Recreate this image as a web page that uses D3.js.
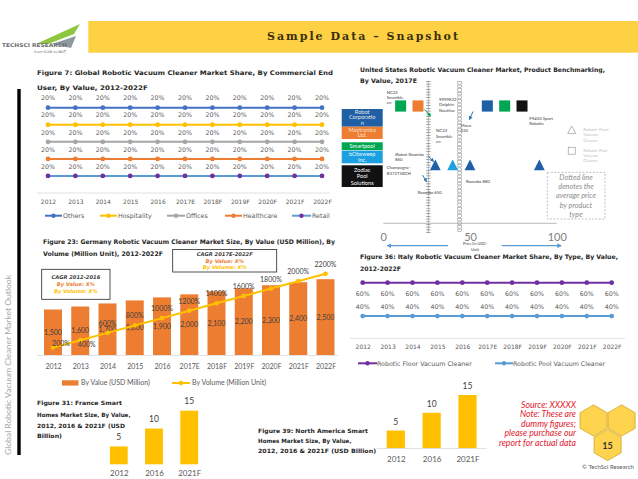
<!DOCTYPE html>
<html>
<head>
<meta charset="utf-8">
<script src="https://cdn.jsdelivr.net/npm/d3@7"></script>
<style>
  body { margin: 0; background: #fff; }
  svg { display: block; }
</style>
</head>
<body>
<script>
// ---------------- data ----------------
var years = ["2012","2013","2014","2015","2016","2017E","2018F","2019F","2020F","2021F","2022F"];

// Figure 7: global share by commercial end user (%)
var shareOthers      = [20,20,20,20,20,20,20,20,20,20,20];
var shareHospitality = [20,20,20,20,20,20,20,20,20,20,20];
var shareOffices     = [20,20,20,20,20,20,20,20,20,20,20];
var shareHealthcare  = [20,20,20,20,20,20,20,20,20,20,20];
var shareRetail      = [20,20,20,20,20,20,20,20,20,20,20];

// Figure 23: Germany market size
var deValue  = [1500,1600,1700,1800,1900,2000,2100,2200,2300,2400,2500];   // USD Million
var deVolume = [200,400,600,800,1000,1200,1400,1600,1800,2000,2200];        // Million Unit (shown as %)

// Figure 36: Italy share by type (%)
var itFloor = [60,60,60,60,60,60,60,60,60,60,60];
var itPool  = [40,40,40,40,40,40,40,40,40,40,40];

// Figure 31 / 39: smart homes market size (USD Billion)
var smartYears  = ["2012","2016","2021F"];
var franceValue = [5,10,15];
var naValue     = [5,10,15];

// US product benchmarking, 2017E (price in USD/unit)
var companies     = ["Robot Corporation","Maytronics Ltd.","Smartpool","bObsweep Inc.","Zodiac Pool Solutions"];
var companyColors = ["#1f5fa6","#ed7d31","#00a651","#1ba1e2","#111111"];
var poolPrices  = [10,20,60,70,80];
var poolMakers  = ["Smartpool","Maytronics Ltd.","Robot Corporation","Smartpool","Zodiac Pool Solutions"];
var floorPrices = [30,40,50,90];
var floorMakers = ["Robot Corporation","bObsweep Inc.","Robot Corporation","Robot Corporation"];
var avgFloorPrice = 26;
var avgPoolPrice  = 44;
var priceTicks = [0,50,100];

// ---------------- helpers ----------------
var VER = "'DejaVu Sans', Verdana, sans-serif";
var CAL = "Lato, 'Liberation Sans', sans-serif";

var svg = d3.select("body").append("svg")
    .attr("width", 638)
    .attr("height", 479);

function label(g, x, y, s, o) {
  o = o || {};
  var t = g.append("text")
      .attr("x", x).attr("y", y).attr("dy", "0.35em")
      .attr("font-family", o.ff || VER)
      .attr("font-size", o.fs || 6.5)
      .attr("fill", o.fill || "#595959")
      .attr("text-anchor", o.anchor || "start")
      .text(s);
  if (o.bold) t.attr("font-weight", "bold");
  if (o.italic) t.attr("font-style", "italic");
  if (o.len) t.attr("textLength", o.len).attr("lengthAdjust", o.adj || "spacingAndGlyphs");
  return t;
}

function bottomAxis(g, scale, y, pad, fs, ff) {
  var a = g.append("g")
      .attr("transform", "translate(0," + y + ")")
      .call(d3.axisBottom(scale).tickSize(0).tickPadding(pad));
  a.select(".domain").remove();
  a.selectAll("text")
      .attr("font-family", ff || VER)
      .attr("font-size", fs)
      .attr("fill", "#595959");
  return a;
}

var defs = svg.append("defs");
[["arrB","#2e75b6"],["arrG","#00a651"],["arrL","#5b9bd5"]].forEach(function(m) {
  defs.append("marker")
      .attr("id", m[0])
      .attr("viewBox", "0 0 10 10")
      .attr("refX", 8).attr("refY", 5)
      .attr("markerWidth", 4).attr("markerHeight", 4)
      .attr("orient", "auto-start-reverse")
    .append("path")
      .attr("d", "M0,0L10,5L0,10z")
      .attr("fill", m[1]);
});

// ---------------- header ----------------
svg.append("rect")
    .attr("x", 88.3).attr("y", 21)
    .attr("width", 550).attr("height", 31.7)
    .attr("fill", "#fed145");
label(svg, 267, 36.5, "Sample Data – Snapshot",
      {ff: "'DejaVu Serif', serif", fs: 11, bold: true, fill: "#3b2f0b", len: 191, adj: "spacing"});

// logo
var logo = svg.append("g");
logo.append("path").attr("d", "M36,44 L80,24 L74,34 L48,44 Z").attr("fill", "#8dc63f");
logo.append("path").attr("d", "M52,44 L76,36 L71,48 Z").attr("fill", "#8c9aa0");
label(logo, 2, 45.5, "TECHSCI RESEARCH", {fs: 5.2, bold: true, fill: "#6b6b6b", len: 65});
label(logo, 34, 51.5, "from SOW to NDT", {fs: 3.3, fill: "#666", len: 32});

// left side bar + vertical caption
svg.append("rect")
    .attr("x", 17.3).attr("y", 89)
    .attr("width", 3.4).attr("height", 366)
    .attr("fill", "#000");
label(svg, 0, 0, "Global Robotic Vacuum Cleaner Market Outlook",
      {ff: CAL, fs: 8, fill: "#a6a6a6", len: 180})
    .attr("transform", "translate(8.5,455) rotate(-90)");

// ---------------- Figure 7 ----------------
var f7 = svg.append("g");
label(f7, 37, 73, "Figure 7: Global Robotic Vacuum Cleaner Market Share, By Commercial End",
      {fs: 6.3, bold: true, fill: "#262626", len: 296});
label(f7, 37, 87.5, "User, By Value, 2012-2022F",
      {fs: 6.3, bold: true, fill: "#262626", len: 111});

var x7 = d3.scalePoint().domain(years).range([48, 322]);
var y7 = d3.scaleLinear().domain([0, 100]).range([193, 107.7]);

var f7series = {
  Others: shareOthers, Hospitality: shareHospitality, Offices: shareOffices,
  Healthcare: shareHealthcare, Retail: shareRetail
};
var f7line = {Others: "#4472c4", Hospitality: "#ffc000", Offices: "#a5a5a5", Healthcare: "#ed7d31", Retail: "#5b9bd5"};
var f7mark = {Others: "#4472c4", Hospitality: "#ffc000", Offices: "#a5a5a5", Healthcare: "#ed7d31", Retail: "#7030a0"};
var f7rows = years.map(function(yr, i) {
  var r = {year: yr};
  Object.keys(f7series).forEach(function(k) { r[k] = f7series[k][i]; });
  return r;
});
var stack7 = d3.stack().keys(["Retail","Healthcare","Offices","Hospitality","Others"])(f7rows);

f7.append("line")
    .attr("x1", 37).attr("x2", 330)
    .attr("y1", y7(0)).attr("y2", y7(0))
    .attr("stroke", "#d9d9d9").attr("stroke-width", 0.8);

stack7.forEach(function(s) {
  f7.append("path")
      .datum(s)
      .attr("fill", "none")
      .attr("stroke", f7line[s.key])
      .attr("stroke-width", 2)
      .attr("d", d3.line().x(function(d) { return x7(d.data.year); }).y(function(d) { return y7(d[1]); }));
  f7.selectAll(null).data(s).enter().append("circle")
      .attr("cx", function(d) { return x7(d.data.year); })
      .attr("cy", function(d) { return y7(d[1]); })
      .attr("r", 2.4)
      .attr("fill", f7mark[s.key]);
  s.forEach(function(d) {
    label(f7, x7(d.data.year), y7(d[1]) - 9.5, d.data[s.key] + "%", {anchor: "middle", fs: 6.3});
  });
});
bottomAxis(f7, x7, 193, 6.5, 6);

// legend
var f7leg = [["Others", 45, 63], ["Hospitality", 100, 118], ["Offices", 167, 186], ["Healthcare", 225, 243], ["Retail", 292, 312]];
f7leg.forEach(function(l) {
  f7.append("line")
      .attr("x1", l[1]).attr("x2", l[2] - 1)
      .attr("y1", 215.7).attr("y2", 215.7)
      .attr("stroke", f7line[l[0]]).attr("stroke-width", 2);
  f7.append("circle")
      .attr("cx", (l[1] + l[2] - 1) / 2).attr("cy", 215.7)
      .attr("r", 2.2).attr("fill", f7mark[l[0]]);
  label(f7, l[2], 215.7, l[0], {fs: 6.3});
});

// ---------------- Figure 23 ----------------
var f23 = svg.append("g");
label(f23, 43, 242, "Figure 23: Germany Robotic Vacuum Cleaner Market Size, By Value (USD Million), By",
      {fs: 6.3, bold: true, fill: "#262626", len: 292});
label(f23, 43, 253.5, "Volume (Million Unit), 2012-2022F",
      {fs: 6.3, bold: true, fill: "#262626", len: 120});

var x23 = d3.scalePoint().domain(years).range([53, 325.5]);
var yBar = d3.scaleLinear().domain([0, 2500]).range([355, 279.2]);
var yVol = d3.scaleLinear().domain([0, 2200]).range([355, 273.8]);
var barW = 18;

f23.selectAll("rect.bar").data(deValue).enter().append("rect")
    .attr("class", "bar")
    .attr("x", function(d, i) { return x23(years[i]) - barW / 2; })
    .attr("y", function(d) { return yBar(d); })
    .attr("width", barW)
    .attr("height", function(d) { return yBar(0) - yBar(d); })
    .attr("fill", "#ed7d31");

f23.append("line")
    .attr("x1", 37).attr("x2", 338)
    .attr("y1", 355.5).attr("y2", 355.5)
    .attr("stroke", "#d9d9d9").attr("stroke-width", 0.8);

deValue.forEach(function(d, i) {
  label(f23, x23(years[i]), (yBar(d) + yBar(0)) / 2, d3.format(",")(d),
        {ff: CAL, fs: 7, anchor: "middle", fill: "#404040"});
});

f23.append("path")
    .datum(deVolume)
    .attr("fill", "none")
    .attr("stroke", "#ffc000")
    .attr("stroke-width", 2)
    .attr("d", d3.line().x(function(d, i) { return x23(years[i]); }).y(function(d) { return yVol(d); }));
f23.selectAll("circle.vol").data(deVolume).enter().append("circle")
    .attr("class", "vol")
    .attr("cx", function(d, i) { return x23(years[i]); })
    .attr("cy", function(d) { return yVol(d); })
    .attr("r", 2.4)
    .attr("fill", "#ffc000");
deVolume.forEach(function(d, i) {
  var dx = 0, dy = -9.5;
  if (i === 0) { dx = 8; dy = -4; }
  if (i === 1) { dx = 6.5; dy = 4; }
  label(f23, x23(years[i]) + dx, yVol(d) + dy, d + "%",
        {ff: CAL, fs: 7, anchor: "middle", fill: "#404040"});
});
bottomAxis(f23, x23, 355, 9.2, 7, CAL);

// CAGR boxes
function cagrBox(g, x, y, w, h, head, cy) {
  g.append("rect")
      .attr("x", x).attr("y", y).attr("width", w).attr("height", h)
      .attr("fill", "#fff").attr("stroke", "#262626").attr("stroke-width", 0.8);
  var cx = x + w / 2;
  label(g, cx, cy[0], head, {fs: 5.2, bold: true, italic: true, anchor: "middle", fill: "#404040"});
  label(g, cx, cy[1], "By Value: X%", {fs: 5.2, bold: true, italic: true, anchor: "middle", fill: "#ed7d31"});
  label(g, cx, cy[2], "By Volume: X%", {fs: 5.2, bold: true, italic: true, anchor: "middle", fill: "#ffc000"});
}
cagrBox(f23, 172.7, 249.5, 104, 22.5, "CAGR 2017E-2022F", [254.3, 260.7, 267]);
cagrBox(f23, 41.7, 269.3, 68.3, 30, "CAGR 2012-2016", [277.3, 284.3, 290.7]);

// legend
f23.append("rect").attr("x", 62).attr("y", 380.3).attr("width", 16.5).attr("height", 5.3).attr("fill", "#ed7d31");
label(f23, 81, 383, "By Value (USD Million)", {ff: CAL, fs: 7, fill: "#595959"});
f23.append("line").attr("x1", 172).attr("x2", 190).attr("y1", 383).attr("y2", 383)
    .attr("stroke", "#ffc000").attr("stroke-width", 2);
f23.append("circle").attr("cx", 181).attr("cy", 383).attr("r", 2.3).attr("fill", "#ffc000");
label(f23, 192, 383, "By Volume (Million Unit)", {ff: CAL, fs: 7, fill: "#595959"});

// ---------------- Figure 31 (France) ----------------
var f31 = svg.append("g");
[["Figure 31: France Smart", 403.3, 85],
 ["Homes Market Size, By Value,", 414.5, 93.5],
 ["2012, 2016 & 2021F (USD", 425.5, 88],
 ["Billion)", 436, 25]].forEach(function(t) {
  label(f31, 37, t[1], t[0], {fs: 5.8, bold: true, fill: "#262626", len: t[2]});
});
var x31 = d3.scalePoint().domain(smartYears).range([118.8, 189.2]);
var y31 = d3.scaleLinear().domain([0, 15]).range([464.3, 410.7]);
f31.selectAll("rect").data(franceValue).enter().append("rect")
    .attr("x", function(d, i) { return x31(smartYears[i]) - 8.9; })
    .attr("y", function(d) { return y31(d); })
    .attr("width", 17.8)
    .attr("height", function(d) { return y31(0) - y31(d); })
    .attr("fill", "#ffc000");
franceValue.forEach(function(d, i) {
  label(f31, x31(smartYears[i]), y31(d) - 9.3, d, {ff: CAL, fs: 8.5, anchor: "middle", fill: "#404040"});
});
bottomAxis(f31, x31, 464.3, 5.8, 8, CAL);

// ---------------- Figure 39 (North America) ----------------
var f39 = svg.append("g");
[["Figure 39: North America Smart", 431, 110],
 ["Homes Market Size, By Value,", 441, 93.5],
 ["2012, 2016 & 2021F (USD Billion)", 451, 118]].forEach(function(t) {
  label(f39, 258, t[1], t[0], {fs: 5.8, bold: true, fill: "#262626", len: t[2]});
});
var x39 = d3.scalePoint().domain(smartYears).range([395.8, 467.5]);
var y39 = d3.scaleLinear().domain([0, 15]).range([448.3, 395]);
f39.selectAll("rect").data(naValue).enter().append("rect")
    .attr("x", function(d, i) { return x39(smartYears[i]) - 9.1; })
    .attr("y", function(d) { return y39(d); })
    .attr("width", 18.2)
    .attr("height", function(d) { return y39(0) - y39(d); })
    .attr("fill", "#ffc000");
f39.append("line")
    .attr("x1", 376.7).attr("x2", 486.7)
    .attr("y1", 448.5).attr("y2", 448.5)
    .attr("stroke", "#d9d9d9").attr("stroke-width", 0.8);
naValue.forEach(function(d, i) {
  label(f39, x39(smartYears[i]), y39(d) - 9, d, {ff: CAL, fs: 8.5, anchor: "middle", fill: "#404040"});
});
bottomAxis(f39, x39, 448.3, 8.1, 8, CAL);

// ---------------- source note, page badge ----------------
["Source: XXXXX", "Note: These are", "dummy figures;", "please purchase our", "report for actual data"]
  .forEach(function(s, i) {
    label(svg, 576, 405 + i * 9.4, s, {ff: CAL, fs: 8.7, italic: true, anchor: "end", fill: "#e0202e"});
  });

var hexR = 15.6;
var hexPts = d3.range(6).map(function(k) {
  var a = Math.PI / 3 * k - Math.PI / 2;
  return [hexR * Math.cos(a), hexR * Math.sin(a)];
});
[[593.6, 420.5], [621.6, 420.5], [607.6, 445]].forEach(function(c) {
  svg.append("polygon")
      .attr("points", hexPts.map(function(p) { return (c[0] + p[0]) + "," + (c[1] + p[1]); }).join(" "))
      .attr("fill", "#fed44e")
      .attr("stroke", "#d1a520")
      .attr("stroke-width", 0.8);
});
label(svg, 607.6, 445.5, "15", {ff: CAL, fs: 9, bold: true, anchor: "middle", fill: "#333"});
label(svg, 582, 467, "© TechSci Research", {ff: CAL, fs: 5.5, fill: "#595959", len: 52});

// ---------------- US product benchmarking ----------------
var fb = svg.append("g");
label(fb, 360, 70, "United States Robotic Vacuum Cleaner Market, Product Benchmarking,",
      {fs: 6.2, bold: true, fill: "#262626", len: 245});
label(fb, 360, 81, "By Value, 2017E", {fs: 6.2, bold: true, fill: "#262626", len: 57});

var xp = d3.scaleLinear().domain([0, 100]).range([383.3, 556.7]);
var yType = d3.scalePoint().domain(["Pool", "Floor"]).range([106, 165.3]);
var colorOf = d3.scaleOrdinal().domain(companies).range(companyColors);

// company boxes
var boxes = [
  [109, 17.7, ["Robot", "Corporatio", "n"], [111.7, 117.3, 123], "#e6e6e6"],
  [126.7, 12.3, ["Maytronics", "Ltd."], [129.7, 135.3], "#fbe3d2"],
  [142.3, 7.9, ["Smartpool"], [146.3], "#ffffff"],
  [150.7, 12.6, ["bObsweep", "Inc."], [154, 160], "#e6f4fb"],
  [165.3, 21.7, ["Zodiac", "Pool", "Solutions"], [170, 176.3, 182.6], "#ffffff"]
];
boxes.forEach(function(b, i) {
  fb.append("rect")
      .attr("x", 341.7).attr("y", b[0])
      .attr("width", 41).attr("height", b[1])
      .attr("fill", companyColors[i]);
  b[2].forEach(function(s, j) {
    label(fb, 362.2, b[3][j], s, {ff: CAL, fs: 5.6, anchor: "middle", fill: b[4]});
  });
});

// average price lines
var xa = xp(avgFloorPrice);
fb.append("line").attr("x1", xa).attr("x2", xa).attr("y1", 81).attr("y2", 233)
    .attr("stroke", "#8c8c8c").attr("stroke-width", 0.6);
fb.append("line").attr("x1", xa).attr("x2", xa).attr("y1", 81).attr("y2", 233)
    .attr("stroke", "#8c8c8c").attr("stroke-width", 4.5).attr("stroke-dasharray", "0.7,2");
var xb = xp(avgPoolPrice);
fb.selectAll("rect.avg").data(d3.range(81.5, 232, 3.6)).enter().append("rect")
    .attr("class", "avg")
    .attr("x", xb - 1.8).attr("y", function(d) { return d; })
    .attr("width", 3.6).attr("height", 2.6)
    .attr("fill", "#fff").attr("stroke", "#808080").attr("stroke-width", 0.5);

// axis
fb.append("line")
    .attr("x1", xp(0)).attr("x2", xp(100))
    .attr("y1", 223.3).attr("y2", 223.3)
    .attr("stroke", "#a6a6a6").attr("stroke-width", 0.8);
var pa = fb.append("g")
    .attr("transform", "translate(0,223.3)")
    .call(d3.axisBottom(xp).tickValues(priceTicks).tickSize(0).tickPadding(10));
pa.select(".domain").remove();
pa.selectAll("text").attr("font-family", CAL).attr("font-size", 11).attr("fill", "#7f7f7f");

fb.append("line").attr("x1", 448).attr("x2", 387.5).attr("y1", 245.7).attr("y2", 245.7)
    .attr("stroke", "#5b9bd5").attr("stroke-width", 1.2).attr("marker-end", "url(#arrL)");
fb.append("line").attr("x1", 501.7).attr("x2", 561).attr("y1", 245.7).attr("y2", 245.7)
    .attr("stroke", "#5b9bd5").attr("stroke-width", 1.2).attr("marker-end", "url(#arrL)");
label(fb, 475, 243.5, "Price (In USD/", {ff: CAL, fs: 3.8, anchor: "middle", fill: "#404040"});
label(fb, 475, 249.3, "Unit)", {ff: CAL, fs: 3.8, anchor: "middle", fill: "#404040"});

// products
fb.selectAll("rect.pool").data(poolPrices).enter().append("rect")
    .attr("class", "pool")
    .attr("x", function(d) { return xp(d) - 5.5; })
    .attr("y", yType("Pool") - 5.6)
    .attr("width", 11).attr("height", 11.2)
    .attr("fill", function(d, i) { return colorOf(poolMakers[i]); });
fb.selectAll("path.floor").data(floorPrices).enter().append("path")
    .attr("class", "floor")
    .attr("d", "M0,-5.8L5.4,5L-5.4,5Z")
    .attr("transform", function(d) { return "translate(" + xp(d) + "," + yType("Floor") + ")"; })
    .attr("fill", function(d, i) { return colorOf(floorMakers[i]); });

// product call-outs
var notes = [
  [386.7, [92.3, 97.2, 102.2], ["NC22", "Smartkle", "en"]],
  [439, [99, 104.7, 110.3], ["9999E22", "Dolphin", "Nautilus"]],
  [460.5, [125.7, 130.9], ["Mova", "330"]],
  [436, [130.7, 136.2, 141.7], ["NC22", "Smartkle", "en"]],
  [529.3, [118.3, 123.7], ["F9450 Sport", "Robotic"]],
  [395, [154.7, 159.5], ["iRobot Roomba", "860"]],
  [386.7, [167.7, 173.3], ["Champagne-", "B372T5BCH"]],
  [466, [181.7], ["Roomba 880"]],
  [417.7, [192.7], ["Roomba 650"]]
];
notes.forEach(function(n) {
  n[2].forEach(function(s, j) {
    label(fb, n[0], n[1][j], s, {ff: CAL, fs: 4.3, fill: "#404040"});
  });
});
[[424.5, 109.5, 430.5, 116, "arrG", "#00a651"],
 [473, 111.5, 469.5, 119.5, "arrB", "#2e75b6"],
 [428.3, 156, 433.5, 161.5, "arrB", "#2e75b6"],
 [422.5, 175, 426.5, 181.5, "arrB", "#2e75b6"]].forEach(function(a) {
  fb.append("line")
      .attr("x1", a[0]).attr("y1", a[1]).attr("x2", a[2]).attr("y2", a[3])
      .attr("stroke", a[5]).attr("stroke-width", 1)
      .attr("marker-end", "url(#" + a[4] + ")");
});

// type legend
fb.append("path").attr("d", "M0,-4L4,3.5L-4,3.5Z")
    .attr("transform", "translate(571.7,130)")
    .attr("fill", "none").attr("stroke", "#8c8c8c").attr("stroke-width", 0.6);
fb.append("rect").attr("x", 568.2).attr("y", 147.2).attr("width", 7).attr("height", 7)
    .attr("fill", "none").attr("stroke", "#8c8c8c").attr("stroke-width", 0.6);
["Robotic Floor", "Vacuum", "Cleaner"].forEach(function(s, j) {
  label(fb, 583.3, 129.3 + j * 5.4, s, {ff: CAL, fs: 4.3, fill: "#bfbfbf"});
});
["Robotic Pool", "Vacuum", "Cleaner"].forEach(function(s, j) {
  label(fb, 583.3, 150 + j * 5.4, s, {ff: CAL, fs: 4.3, fill: "#bfbfbf"});
});

// dotted-line note
fb.append("rect")
    .attr("x", 547.3).attr("y", 172.3).attr("width", 57.7).attr("height", 46.7)
    .attr("fill", "none").attr("stroke", "#a6a6a6").attr("stroke-width", 0.7)
    .attr("stroke-dasharray", "2,1.5");
["Dotted line", "denotes the", "average price", "by product", "type"].forEach(function(s, j) {
  label(fb, 576, 177 + j * 9.4, s, {ff: CAL, fs: 7.3, italic: true, anchor: "middle", fill: "#8c8c8c"});
});

// ---------------- Figure 36 (Italy) ----------------
var f36 = svg.append("g");
label(f36, 360, 257, "Figure 36: Italy Robotic Vacuum Cleaner Market Share, By Type, By Value,",
      {fs: 6.2, bold: true, fill: "#262626", len: 258});
label(f36, 360, 269, "2012-2022F", {fs: 6.2, bold: true, fill: "#262626", len: 41});

var x36 = d3.scalePoint().domain(years).range([362.7, 611.7]);
var y36 = d3.scaleLinear().domain([0, 100]).range([338.3, 282.7]);
var f36rows = years.map(function(yr, i) { return {year: yr, Floor: itFloor[i], Pool: itPool[i]}; });
var stack36 = d3.stack().keys(["Pool", "Floor"])(f36rows);
var f36color = {Floor: "#7030a0", Pool: "#5b9bd5"};

f36.append("line")
    .attr("x1", 350).attr("x2", 625)
    .attr("y1", 338.3).attr("y2", 338.3)
    .attr("stroke", "#d9d9d9").attr("stroke-width", 0.8);

stack36.forEach(function(s) {
  f36.append("path")
      .datum(s)
      .attr("fill", "none")
      .attr("stroke", f36color[s.key])
      .attr("stroke-width", 2)
      .attr("d", d3.line().x(function(d) { return x36(d.data.year); }).y(function(d) { return y36(d[1]); }));
  f36.selectAll(null).data(s).enter().append("circle")
      .attr("cx", function(d) { return x36(d.data.year); })
      .attr("cy", function(d) { return y36(d[1]); })
      .attr("r", 2.4)
      .attr("fill", f36color[s.key]);
  s.forEach(function(d) {
    var off = s.key === "Floor" ? 10.6 : -9.3;
    label(f36, x36(d.data.year), y36(d[1]) + off, d.data[s.key] + "%", {anchor: "middle", fs: 6.3});
  });
});
bottomAxis(f36, x36, 338.3, 6.8, 6);

[["Robotic Floor Vacuum Cleaner", "Floor", 358, 377], ["Robotic Pool Vacuum Cleaner", "Pool", 495, 513]]
  .forEach(function(l) {
    f36.append("line")
        .attr("x1", l[2]).attr("x2", l[3])
        .attr("y1", 363.3).attr("y2", 363.3)
        .attr("stroke", f36color[l[1]]).attr("stroke-width", 2);
    f36.append("circle")
        .attr("cx", (l[2] + l[3]) / 2).attr("cy", 363.3)
        .attr("r", 2.2).attr("fill", f36color[l[1]]);
    label(f36, l[3], 363.3, l[0], {fs: 6.3});
  });
</script>
</body>
</html>
